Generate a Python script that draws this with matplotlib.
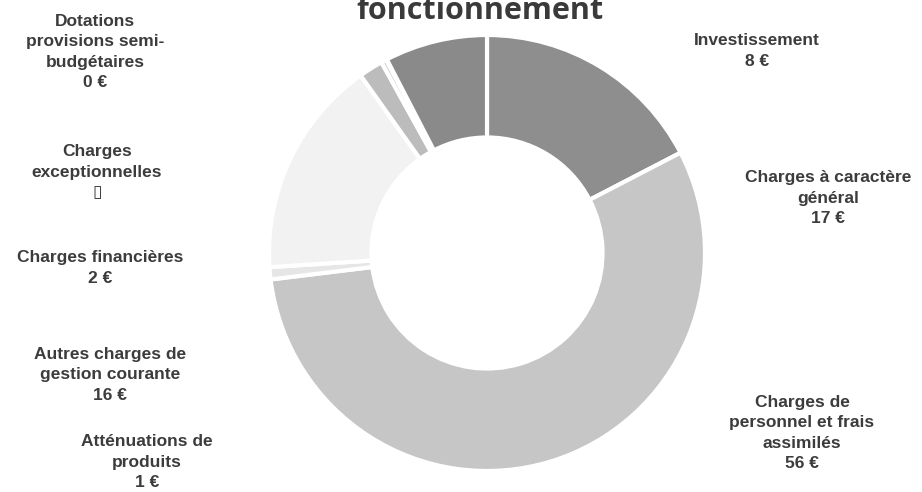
import matplotlib.pyplot as plt

# Données (sens horaire à partir de midi)
categories = [
    "Charges à caractère\ngénéral",
    "Charges de\npersonnel et frais\nassimilés",
    "Atténuations de\nproduits",
    "Autres charges de\ngestion courante",
    "Charges financières",
    "Charges\nexceptionnelles",
    "Dotations\nprovisions semi-\nbudgétaires",
    "Investissement",
]
valeurs = [17.4, 55.7, 0.9, 16.2, 1.8, 0.4, 0.05, 7.6]
etiquettes_valeur = ["17 €", "56 €", "1 €", "16 €", "2 €", "▯", "0 €", "8 €"]
couleurs = ["#8e8e8e", "#c6c6c6", "#e6e6e6", "#f2f2f2",
            "#bcbcbc", "#d4d4d4", "#a0a0a0", "#8a8a8a"]

# position des étiquettes (pixels, centre du bloc)
pos_etiquettes = [(828, 198), (802, 433), (147, 462), (110, 375),
                  (100, 268), (97, 172), (95, 52), (757, 51)]

W, H = 922, 492
fig = plt.figure(figsize=(W / 100, H / 100), dpi=100)

cx, cy, r = 487, 253, 218
ax = fig.add_axes([(cx - r) / W, (H - cy - r) / H, 2 * r / W, 2 * r / H])
ax.pie(valeurs, colors=couleurs, startangle=90, counterclock=False,
       radius=1, wedgeprops=dict(width=0.47, edgecolor="white", linewidth=3))
ax.set_xlim(-1, 1)
ax.set_ylim(-1, 1)
ax.set_aspect("equal")
ax.axis("off")

for nom, val, (x, y) in zip(categories, etiquettes_valeur, pos_etiquettes):
    fig.text(x / W, 1 - y / H, nom + "\n" + val, ha="center", va="center",
             family=["Liberation Sans", "DejaVu Sans"], fontweight="bold",
             fontsize=12.5, color="#3c3c3c", linespacing=1.45)

# titre coupé en haut de l'image
fig.text(480 / W, 1 - 19 / H, "fonctionnement", ha="center", va="baseline",
         family="Open Sans", fontweight="bold", fontsize=22, color="#3a3a3a")

fig.savefig("out.png", dpi=100)
